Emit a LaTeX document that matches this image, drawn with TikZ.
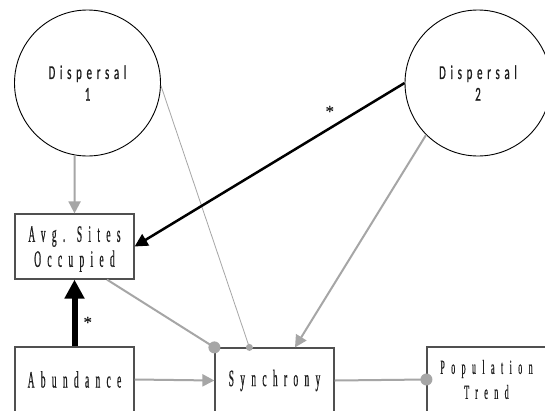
\documentclass[tikz,border=0pt]{standalone}
\usepackage{fontspec}
\usetikzlibrary{arrows.meta,calc}
\newfontfamily\boxfont{Liberation Serif}[FakeStretch=0.4,LetterSpace=27,FakeBold=0.6]
\newfontfamily\popfont{Liberation Serif}[FakeStretch=0.4,LetterSpace=32,FakeBold=0.6]
\newfontfamily\circfont{Carlito}[FakeStretch=0.55,LetterSpace=24,FakeBold=0.8]
\newfontfamily\starfont{Liberation Serif}[FakeBold=0.3]
\definecolor{lgray}{RGB}{166,166,166}
\definecolor{bgray}{RGB}{80,80,80}
\definecolor{tgray}{RGB}{30,30,30}
\tikzset{
  circnode/.style={circle,draw=black,line width=0.9pt,minimum size=146pt,inner sep=0pt,align=center,text=tgray,font=\circfont\fontsize{19.7}{21.7}\selectfont},
  boxnode/.style={rectangle,draw=bgray,line width=1.2pt,minimum width=119pt,minimum height=65pt,inner sep=0pt,align=center,text=tgray,font=\boxfont\fontsize{23.5}{25}\selectfont},
  grayarrow/.style={draw=lgray,line width=2pt,-{Triangle[length=12pt,width=12pt]}},
  grayline/.style={draw=lgray,line width=2pt},
  thinline/.style={draw=lgray,line width=0.8pt},
  blackarrow/.style={draw=black,line width=2.5pt,-{Triangle[length=13pt,width=13pt]}},
  thickarrow/.style={draw=black,line width=6pt,-{Triangle[length=19pt,width=19pt]}},
  star/.style={font=\starfont\fontsize{17}{17}\selectfont,inner sep=0pt,text=tgray}
}
\begin{document}
\begin{tikzpicture}[x=1pt,y=-1pt]
\useasboundingbox (0,0) rectangle (545,410);
\clip (0,0) rectangle (545,410);
\fill[white] (0,0) rectangle (545,410);
\node[circnode,text depth=-4pt] (d1) at (87.5,83) {Dispersal\\1};
\node[circnode,text depth=-4pt] (d2) at (478,83) {Dispersal\\2};
\node[boxnode,text depth=0pt] (avg) at (74.5,246.5) {Avg. Sites\\Occupied};
\node[boxnode] (abund) at (74.5,379.5) {Abundance};
\node[boxnode] (sync) at (274.5,380.5) {Synchrony};
\node[boxnode,font=\popfont\fontsize{20}{25}\selectfont] (pop) at (486.5,379.5) {Population\\Trend};
\coordinate (synctopA) at ($(sync.north west)+(35,0)$);
\coordinate (synctopB) at ($(sync.north)+(20.5,0)$);
\coordinate (avgbr) at ($(avg.south)+(32.5,0)$);
\draw[grayarrow] (d1.260) -- (avg.north);
\draw[thinline] (d1.-2) -- (synctopA);
\fill[lgray] (synctopA) circle (3.5pt);
\draw[blackarrow] (d2.180) -- (avg.east) node[pos=0.277,star,above=10pt] (s1) {*};
\draw[grayarrow] (d2.225) -- (synctopB);
\draw[thickarrow] (abund.north) -- (avg.south) node[pos=0.36,star,right=6pt] (s2) {*};
\draw[grayline] (avgbr) -- (sync.north west);
\fill[lgray] (sync.north west) circle (6pt);
\draw[grayarrow] (abund.east) -- (sync.west);
\draw[grayline] (sync.east) -- (pop.west);
\fill[lgray] (pop.west) circle (6pt);
\end{tikzpicture}
\end{document}
